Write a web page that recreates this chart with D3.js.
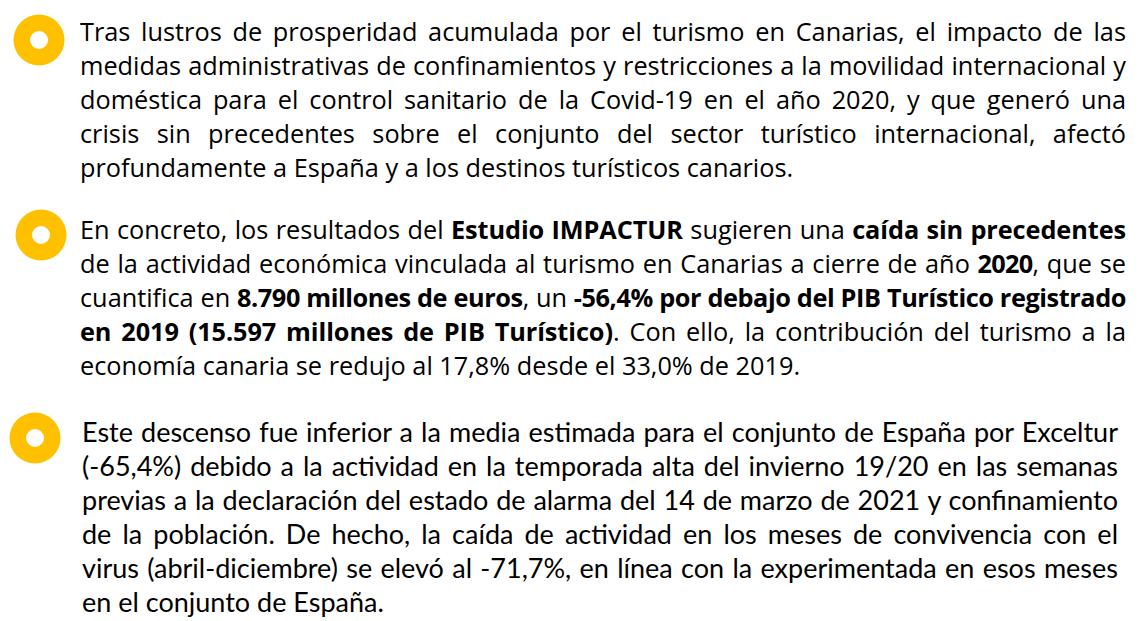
<!DOCTYPE html>
<html>
<head>
<meta charset="utf-8">
<script src="https://cdn.jsdelivr.net/npm/d3@7"></script>
<style>
  html, body { margin: 0; padding: 0; background: #fff; }
  #slide { position: relative; width: 1140px; height: 621px; overflow: hidden; }
  .line { position: absolute; white-space: nowrap; color: #000; }
  .line.just { text-align: justify; text-align-last: justify; }
</style>
</head>
<body>
<div id="slide"></div>
<script>
// Text of each paragraph, one entry per rendered line (** marks bold)
const parrafo1 = [
  "Tras lustros de prosperidad acumulada por el turismo en Canarias, el impacto de las",
  "medidas administrativas de confinamientos y restricciones a la movilidad internacional y",
  "doméstica para el control sanitario de la Covid-19 en el año 2020, y que generó una",
  "crisis sin precedentes sobre el conjunto del sector turístico internacional, afectó",
  "profundamente a España y a los destinos turísticos canarios."
];
const parrafo2 = [
  "En concreto, los resultados del **Estudio IMPACTUR** sugieren una **caída sin precedentes**",
  "de la actividad económica vinculada al turismo en Canarias a cierre de año **2020**, que se",
  "cuantifica en **8.790 millones de euros**, un **-56,4% por debajo del PIB Turístico registrado**",
  "**en 2019 (15.597 millones de PIB Turístico)**. Con ello, la contribución del turismo a la",
  "economía canaria se redujo al 17,8% desde el 33,0% de 2019."
];
const parrafo3 = [
  "Este descenso fue inferior a la media estimada para el conjunto de España por Exceltur",
  "(-65,4%) debido a la actividad en la temporada alta del invierno 19/20 en las semanas",
  "previas a la declaración del estado de alarma del 14 de marzo de 2021 y confinamiento",
  "de la población. De hecho, la caída de actividad en los meses de convivencia con el",
  "virus (abril-diciembre) se elevó al -71,7%, en línea con la experimentada en esos meses",
  "en el conjunto de España."
];

(function() {
  const W = 1140, H = 621;
  const amarillo = "#FFC000";
  const lineH = 34;

  const slide = d3.select("#slide");

  // layout of each block: bullet + text box
  const bloques = [
    { lines: parrafo1, x: 80, right: 1126, top: 14, font: "'Open Sans', sans-serif", size: 25.3, cx: 39, cy: 40 },
    { lines: parrafo2, x: 80, right: 1126, top: 212, font: "'Open Sans', sans-serif", size: 25.3, cx: 41, cy: 235 },
    { lines: parrafo3, x: 82, right: 1118, top: 415, font: "Lato, 'Open Sans', sans-serif", size: 27, cx: 35, cy: 438 }
  ];

  // bullets
  const svg = slide.append("svg")
    .attr("width", W)
    .attr("height", H)
    .style("position", "absolute")
    .style("left", 0)
    .style("top", 0);

  const arc = d3.arc().innerRadius(9).outerRadius(25.5).startAngle(0).endAngle(2 * Math.PI);

  svg.selectAll("path.bullet")
    .data(bloques)
    .join("path")
    .attr("class", "bullet")
    .attr("transform", d => `translate(${d.cx},${d.cy})`)
    .attr("fill", amarillo)
    .attr("d", arc());

  // split "**bold**" markers into segments
  function segments(str) {
    return str.split("**").map((t, i) => ({ text: t, bold: i % 2 === 1 })).filter(s => s.text.length);
  }

  bloques.forEach(b => {
    const avail = b.right - b.x;
    const g = slide.append("div")
      .style("position", "absolute")
      .style("left", b.x + "px")
      .style("top", b.top + "px")
      .style("font-family", b.font)
      .style("font-size", b.size + "px");

    g.selectAll("div.line")
      .data(b.lines)
      .join("div")
      .attr("class", (d, i) => i < b.lines.length - 1 ? "line just" : "line")
      .style("left", 0)
      .style("top", (d, i) => i * lineH + "px")
      .style("height", lineH + "px")
      .style("line-height", lineH + "px")
      .style("width", (d, i) => i < b.lines.length - 1 ? avail + "px" : null)
      .each(function(d, i) {
        const spans = d3.select(this).selectAll("span")
          .data(segments(d))
          .join("span")
          .style("font-weight", s => s.bold ? 700 : 400)
          .text(s => s.text);

        // bold runs are wider than in the original: tighten them if a line overflows
        if (i < b.lines.length - 1) {
          let natural = 0;
          spans.each(function() { natural += this.getBoundingClientRect().width; });
          const over = natural - (avail - 3);
          if (over > 0) {
            const boldChars = d3.sum(segments(d), s => s.bold ? s.text.length : 0);
            spans.filter(s => s.bold).style("letter-spacing", (-over / boldChars) + "px");
          }
        }
      });
  });
})();
</script>
</body>
</html>
